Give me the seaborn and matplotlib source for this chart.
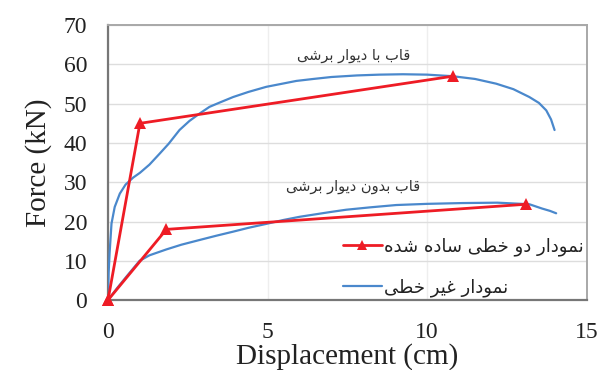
import matplotlib
matplotlib.use("Agg")
import matplotlib.pyplot as plt
import numpy as np
import pandas as pd
import seaborn as sns

# Bilinear (simplified) curves: origin, yield point, ultimate point
bi_wall_x = [0.0, 1.0, 10.8]
bi_wall_y = [0.0, 45.0, 57.0]
bi_frame_x = [0.0, 1.83, 13.1]
bi_frame_y = [0.0, 18.0, 24.4]

# Nonlinear pushover curve, frame with shear wall
nl_wall_x = [0.0, 0.02, 0.05, 0.11, 0.21, 0.37, 0.55, 0.79, 1.0, 1.3, 1.62, 1.9,
             2.24, 2.55, 2.87, 3.18, 3.5, 3.92, 4.4, 4.96, 5.4, 5.9, 6.43, 7.0,
             7.8, 8.5, 9.24, 10.0, 10.8, 11.5, 12.16, 12.7, 13.2, 13.5, 13.73,
             13.88, 13.99]
nl_wall_y = [0.0, 7.0, 12.0, 19.5, 23.7, 27.1, 29.4, 31.2, 32.4, 34.5, 37.3, 39.8,
             43.3, 45.6, 47.5, 49.2, 50.3, 51.7, 53.0, 54.3, 55.0, 55.8, 56.3, 56.8,
             57.2, 57.4, 57.5, 57.4, 57.0, 56.3, 55.1, 53.7, 51.7, 50.2, 48.3,
             46.0, 43.3]

# Nonlinear pushover curve, bare frame
nl_frame_x = [0.0, 0.3, 0.6, 0.99, 1.3, 1.83, 2.3, 2.87, 3.4, 3.91, 4.4, 4.96,
              5.5, 6.0, 6.95, 7.46, 8.2, 9.03, 10.0, 11.1, 12.2, 13.2, 13.6,
              13.85, 14.04]
nl_frame_y = [0.0, 3.2, 6.2, 10.0, 11.4, 12.9, 14.1, 15.3, 16.4, 17.4, 18.4, 19.4,
              20.4, 21.2, 22.4, 23.0, 23.6, 24.2, 24.5, 24.7, 24.8, 24.4, 23.3,
              22.7, 22.1]

label_bilinear = "نمودار دو خطی ساده شده"
label_nonlinear = "نمودار غیر خطی"
note_wall = "قاب با دیوار برشی"
note_frame = "قاب بدون دیوار برشی"

x_ticks = [0, 5, 10, 15]
y_ticks = [0, 10, 20, 30, 40, 50, 60, 70]

# Contextual forms (isolated, final, initial, medial) for the Persian letters used
_FORMS = {
    "ا": "\ufe8d\ufe8e",
    "د": "\ufea9\ufeaa",
    "ر": "\ufead\ufeae",
    "و": "\ufeed\ufeee",
    "ب": "\ufe8f\ufe90\ufe91\ufe92",
    "خ": "\ufea5\ufea6\ufea7\ufea8",
    "س": "\ufeb1\ufeb2\ufeb3\ufeb4",
    "ش": "\ufeb5\ufeb6\ufeb7\ufeb8",
    "ط": "\ufec1\ufec2\ufec3\ufec4",
    "غ": "\ufecd\ufece\ufecf\ufed0",
    "ق": "\ufed5\ufed6\ufed7\ufed8",
    "ل": "\ufedd\ufede\ufedf\ufee0",
    "م": "\ufee1\ufee2\ufee3\ufee4",
    "ن": "\ufee5\ufee6\ufee7\ufee8",
    "ه": "\ufee9\ufeea\ufeeb\ufeec",
    "ی": "\ufbfc\ufbfd\ufbfe\ufbff",
}


def shape_rtl(text):
    """Join Persian letters into their contextual forms and order them for LTR drawing."""
    out = []
    for i, ch in enumerate(text):
        forms = _FORMS.get(ch)
        if forms is None:
            out.append(ch)
            continue
        prev = text[i - 1] if i > 0 else ""
        nxt = text[i + 1] if i + 1 < len(text) else ""
        join_prev = prev in _FORMS and len(_FORMS[prev]) == 4
        join_next = len(forms) == 4 and nxt in _FORMS
        if join_prev and join_next:
            out.append(forms[3])
        elif join_prev:
            out.append(forms[1])
        elif join_next:
            out.append(forms[2])
        else:
            out.append(forms[0])
    return "".join(reversed(out))


sns.set_theme(style="white")
plt.rcParams["font.family"] = ["Liberation Serif", "DejaVu Serif"]
fa_font = ["DejaVu Sans"]

RED = "#ee1c25"
BLUE = "#4a88cc"

fig = plt.figure(figsize=(6.0, 3.7), dpi=100)
ax = fig.add_axes([0.18, 0.189, 0.798, 0.743])

bi = pd.concat([
    pd.DataFrame({"d": bi_wall_x, "f": bi_wall_y, "case": "wall"}),
    pd.DataFrame({"d": bi_frame_x, "f": bi_frame_y, "case": "frame"}),
])
nl = pd.concat([
    pd.DataFrame({"d": nl_wall_x, "f": nl_wall_y, "case": "wall"}),
    pd.DataFrame({"d": nl_frame_x, "f": nl_frame_y, "case": "frame"}),
])

sns.lineplot(data=nl, x="d", y="f", units="case", estimator=None, sort=False,
             color=BLUE, lw=1.6, ax=ax, zorder=3)
sns.lineplot(data=bi, x="d", y="f", units="case", estimator=None, sort=False,
             color=RED, lw=2.0, marker="^", markersize=8, markeredgewidth=0,
             ax=ax, zorder=4, clip_on=False)

ax.set_xlim(0, 15)
ax.set_ylim(0, 70)
ax.set_xticks(x_ticks)
ax.set_yticks(y_ticks)
ax.set_xticklabels([str(v) for v in x_ticks])
ax.set_yticklabels([str(v) for v in y_ticks])
ax.tick_params(axis="both", labelsize=17, labelcolor="#222222", color="#777777",
               length=6, width=1.2, direction="out", pad=9)
ax.tick_params(axis="x", pad=10, length=6)

ax.set_xlabel("Displacement (cm)", fontsize=21, color="#222222")
ax.set_ylabel("Force (kN)", fontsize=21, color="#222222", labelpad=8)
ax.xaxis.set_label_coords(0.5, -0.158)

ax.yaxis.grid(True, color="#dddddd", lw=1.0)
ax.xaxis.grid(True, color="#eeeeee", lw=1.0)
ax.set_axisbelow(True)

for side in ("left", "bottom"):
    ax.spines[side].set_color("#777777")
    ax.spines[side].set_linewidth(1.6)
for side in ("top", "right"):
    ax.spines[side].set_color("#a8a8a8")
    ax.spines[side].set_linewidth(1.4)
    ax.spines[side].set_visible(True)

ax.text(7.69, 62.3, shape_rtl(note_wall), fontsize=10.5, family=fa_font,
        color="#333333", ha="center", va="center")
ax.text(7.69, 28.8, shape_rtl(note_frame), fontsize=10.5, family=fa_font,
        color="#333333", ha="center", va="center")

handles = [
    plt.Line2D([], [], color=RED, lw=2.0, marker="^", markersize=7, markeredgewidth=0),
    plt.Line2D([], [], color=BLUE, lw=1.6),
]
leg = ax.legend(handles, [shape_rtl(label_bilinear), shape_rtl(label_nonlinear)],
                loc="center left", bbox_to_anchor=(0.49, 0.12), frameon=False,
                borderaxespad=0, borderpad=0, handlelength=2.2, handletextpad=0.1,
                labelspacing=1.25, prop={"family": fa_font, "size": 13})
for t in leg.get_texts():
    t.set_color("#222222")

fig.savefig("out.png", dpi=100)
